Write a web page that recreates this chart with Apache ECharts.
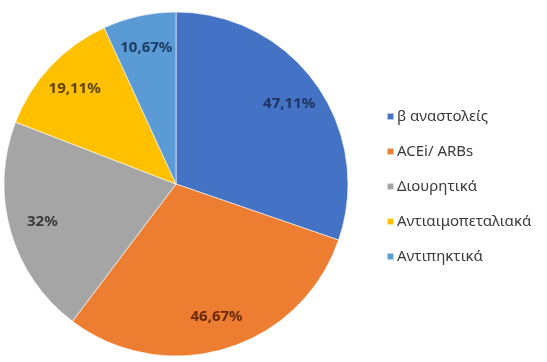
<!DOCTYPE html>
<html>
<head>
<meta charset="utf-8">
<script src="https://cdn.jsdelivr.net/npm/echarts@6/dist/echarts.min.js"></script>
<style>html,body{margin:0;padding:0;background:#fff}#c{width:547px;height:362px}</style>
</head>
<body>
<div id="c"></div>
<script>
const categories = ['β αναστολείς', 'ACEi/ ARBs', 'Διουρητικά', 'Αντιαιμοπεταλιακά', 'Αντιπηκτικά'];
const values = [47.11, 46.67, 32, 19.11, 10.67];
const labels = ['47,11%', '46,67%', '32%', '19,11%', '10,67%'];
const colors = ['#4472C4', '#ED7D31', '#A5A5A5', '#FFC000', '#5B9BD5'];
const labelColors = ['#1f3560', '#6a2a08', '#3a3a3a', '#5a4300', '#1d3d63'];

const chart = echarts.init(document.getElementById('c'), null, {renderer: 'canvas'});
const center = [176, 184];
chart.setOption({
  animation: false,
  backgroundColor: '#fff',
  color: colors,
  legend: {
    orient: 'vertical',
    left: 381,
    top: 104,
    itemWidth: 7,
    itemHeight: 7,
    itemGap: 20,
    icon: 'rect',
    textStyle: {fontFamily: 'Noto Sans', fontSize: 15, color: '#3a3a3a', padding: [0, 0, 0, -2]},
    data: categories
  },
  series: [
    {
      type: 'pie',
      center: center,
      radius: [0, 172],
      startAngle: 90,
      clockwise: true,
      label: {show: false},
      labelLine: {show: false},
      itemStyle: {borderColor: 'rgba(255,255,255,0.6)', borderWidth: 1},
      emphasis: {disabled: true},
      data: categories.map((n, i) => ({name: n, value: values[i], itemStyle: {color: colors[i]}}))
    },
    {
      type: 'pie',
      center: center,
      radius: [100, 172],
      startAngle: 90,
      clockwise: true,
      silent: true,
      legendHoverLink: false,
      label: {
        show: true,
        position: 'inside',
        fontFamily: 'Noto Sans',
        fontWeight: 'bold',
        fontSize: 15,
        formatter: p => labels[p.dataIndex]
      },
      labelLine: {show: false},
      itemStyle: {color: 'rgba(0,0,0,0)'},
      emphasis: {disabled: true},
      data: categories.map((n, i) => ({name: n + ' ', value: values[i], label: {color: labelColors[i]}}))
    }
  ]
});
</script>
</body>
</html>
